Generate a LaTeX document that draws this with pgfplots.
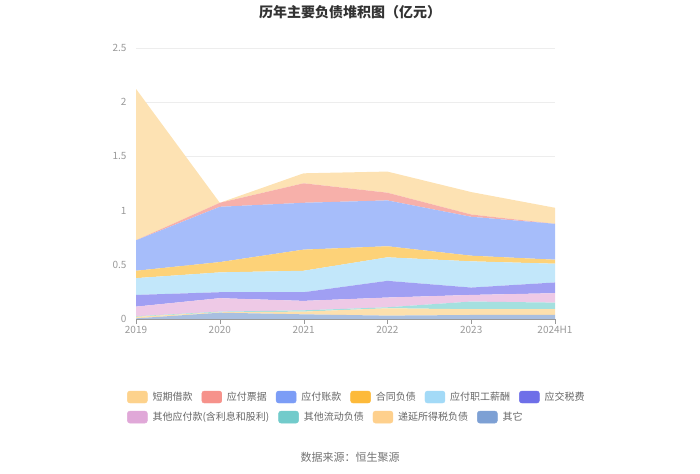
\documentclass[border=0pt]{standalone}
\usepackage{pgfplots}
\pgfplotsset{compat=1.18}
\usepackage{fontspec}
\setmainfont{Noto Sans CJK SC}
% area colours
\definecolor{aA}{HTML}{FDE2B3}
\definecolor{aB}{HTML}{F7B0AA}
\definecolor{aC}{HTML}{A6BDFA}
\definecolor{aD}{HTML}{FDD278}
\definecolor{aE}{HTML}{C2E7FA}
\definecolor{aF}{HTML}{A09FF3}
\definecolor{aG}{HTML}{EEC9E6}
\definecolor{aH}{HTML}{A4E0DF}
\definecolor{aI}{HTML}{FDE0AD}
\definecolor{aJ}{HTML}{A9BFE0}
% legend colours
\definecolor{lA}{HTML}{FDD28C}
\definecolor{lB}{HTML}{F6928B}
\definecolor{lC}{HTML}{7C9DF6}
\definecolor{lD}{HTML}{FDBA3A}
\definecolor{lE}{HTML}{A3DAF7}
\definecolor{lF}{HTML}{6E6FE8}
\definecolor{lG}{HTML}{E0A8D8}
\definecolor{lH}{HTML}{72CBCB}
\definecolor{lI}{HTML}{FED08D}
\definecolor{lJ}{HTML}{7DA0D4}
\definecolor{tickgray}{HTML}{999999}
\definecolor{legtext}{HTML}{666666}
\pgfplotsset{
  swatch/.style={legend image code/.code={\fill[#1,rounded corners=2.5pt] (0pt,-6pt) rectangle (20pt,6pt);}},
  mylegend/.style={
    legend style={draw=none, fill=none, inner sep=0pt, anchor=west,
      nodes={inner sep=0pt, font=\fontsize{10}{12}\selectfont, text=legtext},
      /tikz/every odd column/.append style={column sep=5pt},
      /tikz/every even column/.append style={column sep=9pt}},
  },
}
\begin{document}
\begin{tikzpicture}[x=1pt,y=1pt]
\useasboundingbox (0,0) rectangle (700,473);
\node[font=\fontsize{14}{16}\selectfont\bfseries, text=black!80] at (350,461) {历年主要负债堆积图（亿元）};
\node[font=\fontsize{11}{13}\selectfont, text=black!55] at (350,16) {数据来源：恒生聚源};
\begin{axis}[
  at={(136pt,154pt)}, anchor=south west,
  scale only axis, width=419pt, height=271pt,
  xmin=0, xmax=5, ymin=0, ymax=2.5,
  stack plots=y,
  axis x line*=bottom, axis y line*=left,
  y axis line style={draw=none},
  x axis line style={draw=tickgray},
  xtick={0,1,2,3,4,5},
  xticklabels={2019,2020,2021,2022,2023,2024H1},
  ytick={0,0.5,1,1.5,2,2.5},
  yticklabels={0,0.5,1,1.5,2,2.5},
  tick align=outside,
  major tick length=5pt,
  xtick style={draw=tickgray},
  ytick style={draw=none},
  ymajorgrids, grid style={draw=black!7},
  ticklabel style={font=\fontsize{10}{12}\selectfont, text=tickgray},
  xticklabel style={yshift=1pt},
  yticklabel style={xshift=-1pt},
  mylegend,
  legend columns=6,
  legend style={at={(-0.0215,-0.288)}},
]
\addplot[fill=aJ, draw=none, forget plot] coordinates {(0,0.006) (1,0.058) (2,0.043) (3,0.031) (4,0.037) (5,0.037)} \closedcycle;
\addplot[fill=aI, draw=none, forget plot] coordinates {(0,0.014) (1,0.004) (2,0.025) (3,0.068) (4,0.053) (5,0.053)} \closedcycle;
\addplot[fill=aH, draw=none, forget plot] coordinates {(0,0.005) (1,0.006) (2,0.012) (3,0.009) (4,0.071) (5,0.061)} \closedcycle;
\addplot[fill=aG, draw=none, forget plot] coordinates {(0,0.089) (1,0.124) (2,0.087) (3,0.090) (4,0.061) (5,0.087)} \closedcycle;
\addplot[fill=aF, draw=none, forget plot] coordinates {(0,0.108) (1,0.055) (2,0.080) (3,0.154) (4,0.068) (5,0.099)} \closedcycle;
\addplot[fill=aE, draw=none, forget plot] coordinates {(0,0.155) (1,0.183) (2,0.198) (3,0.217) (4,0.242) (5,0.173)} \closedcycle;
\addplot[fill=aD, draw=none, forget plot] coordinates {(0,0.068) (1,0.095) (2,0.195) (3,0.102) (4,0.052) (5,0.037)} \closedcycle;
\addplot[fill=aC, draw=none, forget plot] coordinates {(0,0.281) (1,0.510) (2,0.432) (3,0.423) (4,0.359) (5,0.331)} \closedcycle;
\addplot[fill=aB, draw=none, forget plot] coordinates {(0,0.000) (1,0.037) (2,0.180) (3,0.071) (4,0.021) (5,0.000)} \closedcycle;
\addplot[fill=aA, draw=none, forget plot] coordinates {(0,1.397) (1,0.000) (2,0.092) (3,0.195) (4,0.207) (5,0.148)} \closedcycle;
\addlegendimage{swatch=lA}\addlegendentry{短期借款}
\addlegendimage{swatch=lB}\addlegendentry{应付票据}
\addlegendimage{swatch=lC}\addlegendentry{应付账款}
\addlegendimage{swatch=lD}\addlegendentry{合同负债}
\addlegendimage{swatch=lE}\addlegendentry{应付职工薪酬}
\addlegendimage{swatch=lF}\addlegendentry{应交税费}
\end{axis}
\begin{axis}[
  at={(136pt,154pt)}, anchor=south west,
  scale only axis, width=419pt, height=271pt,
  xmin=0, xmax=5, ymin=0, ymax=2.5,
  hide axis,
  mylegend,
  legend columns=4,
  legend style={at={(-0.0215,-0.362)}},
]
\addlegendimage{swatch=lG}\addlegendentry{其他应付款(含利息和股利)}
\addlegendimage{swatch=lH}\addlegendentry{其他流动负债}
\addlegendimage{swatch=lI}\addlegendentry{递延所得税负债}
\addlegendimage{swatch=lJ}\addlegendentry{其它}
\end{axis}
\end{tikzpicture}
\end{document}
